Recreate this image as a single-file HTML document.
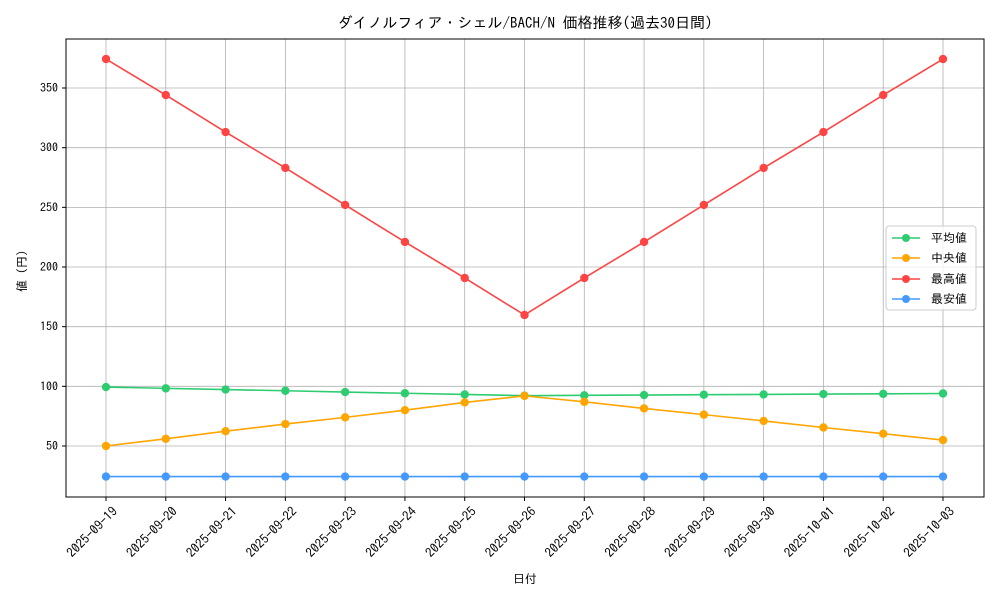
<!DOCTYPE html>
<html><head><meta charset="utf-8"><style>body{margin:0;background:#fff}svg{display:block;font-family:"IPAGothic","Liberation Sans","Noto Sans CJK JP",sans-serif}</style></head><body>
<svg width="1000" height="600" xmlns="http://www.w3.org/2000/svg">
<rect width="1000" height="600" fill="#fff"/>
<text x="525" y="28" font-size="15" text-anchor="middle" fill="#000">ダイノルフィア・シェル/BACH/N 価格推移(過去30日間)</text>
<g id="grid" stroke="#b0b0b0" stroke-width="0.8"></g>
<rect x="66" y="39" width="918" height="458" fill="none" stroke="#000" stroke-width="1"/>
<g id="ticks" font-size="12" fill="#000"></g>
<text x="525" y="583" font-size="12" text-anchor="middle">日付</text>
<text transform="translate(26,268) rotate(-90)" font-size="12" text-anchor="middle">値（円）</text>
<g id="series"></g>
<g>
<rect x="886" y="226" width="90" height="84" rx="3" fill="#fff" fill-opacity="0.8" stroke="#ccc"/>
<line x1="892" y1="238" x2="920" y2="238" stroke="#2ecc71" stroke-width="1.5"/><circle cx="906" cy="238" r="4" fill="#2ecc71"/><text x="931" y="242" font-size="12">平均値</text>
<line x1="892" y1="258" x2="920" y2="258" stroke="#ffa500" stroke-width="1.5"/><circle cx="906" cy="258" r="4" fill="#ffa500"/><text x="931" y="262" font-size="12">中央値</text>
<line x1="892" y1="279" x2="920" y2="279" stroke="#ff4444" stroke-width="1.5"/><circle cx="906" cy="279" r="4" fill="#ff4444"/><text x="931" y="283" font-size="12">最高値</text>
<line x1="892" y1="299" x2="920" y2="299" stroke="#4499ff" stroke-width="1.5"/><circle cx="906" cy="299" r="4" fill="#4499ff"/><text x="931" y="303" font-size="12">最安値</text>
</g>
<script>
const ns="http://www.w3.org/2000/svg";
function el(t,a,p,txt){const e=document.createElementNS(ns,t);for(const k in a)e.setAttribute(k,a[k]);if(txt)e.textContent=txt;p.appendChild(e);return e;}
const X=i=>106+i*59.786, Y=v=>446-(v-50)*1.1933;
const g=document.getElementById('grid'),tk=document.getElementById('ticks'),s=document.getElementById('series');
const dates=["2025-09-19","2025-09-20","2025-09-21","2025-09-22","2025-09-23","2025-09-24","2025-09-25","2025-09-26","2025-09-27","2025-09-28","2025-09-29","2025-09-30","2025-10-01","2025-10-02","2025-10-03"];
dates.forEach((d,i)=>{const x=X(i);el('line',{x1:x,y1:39,x2:x,y2:497},g);el('line',{x1:x,y1:497,x2:x,y2:501,stroke:'#000'},tk);
el('text',{transform:`translate(${x+6},${506}) rotate(-45)`,'text-anchor':'end','dominant-baseline':'hanging','font-size':13},tk,d);});
[50,100,150,200,250,300,350].forEach(v=>{const y=Y(v);el('line',{x1:66,y1:y,x2:984,y2:y},g);el('line',{x1:62,y1:y,x2:66,y2:y,stroke:'#000'},tk);
el('text',{x:58,y:y+4,'text-anchor':'end','font-size':12},tk,v);});
const data=[
["#2ecc71",[99.4,98.3,97.3,96.3,95.2,94.2,93.2,92.2,92.5,92.7,93,93.2,93.5,93.7,94]],
["#ffa500",[50,56,62.4,68.4,74,80,86.5,92,87,81.5,76.3,71,65.5,60.3,55]],
["#ff4444",[374.3,344.1,313.1,283,252,221,190.8,159.8,190.8,221,252,283,313.1,344.1,374.3]],
["#4499ff",[24.4,24.4,24.4,24.4,24.4,24.4,24.4,24.4,24.4,24.4,24.4,24.4,24.4,24.4,24.4]]];
data.forEach(([c,vs])=>{el('polyline',{points:vs.map((v,i)=>X(i)+','+Y(v)).join(' '),fill:'none',stroke:c,'stroke-width':1.6},s);
vs.forEach((v,i)=>el('circle',{cx:X(i),cy:Y(v),r:4.2,fill:c},s));});
</script>
</svg>
</body></html>
